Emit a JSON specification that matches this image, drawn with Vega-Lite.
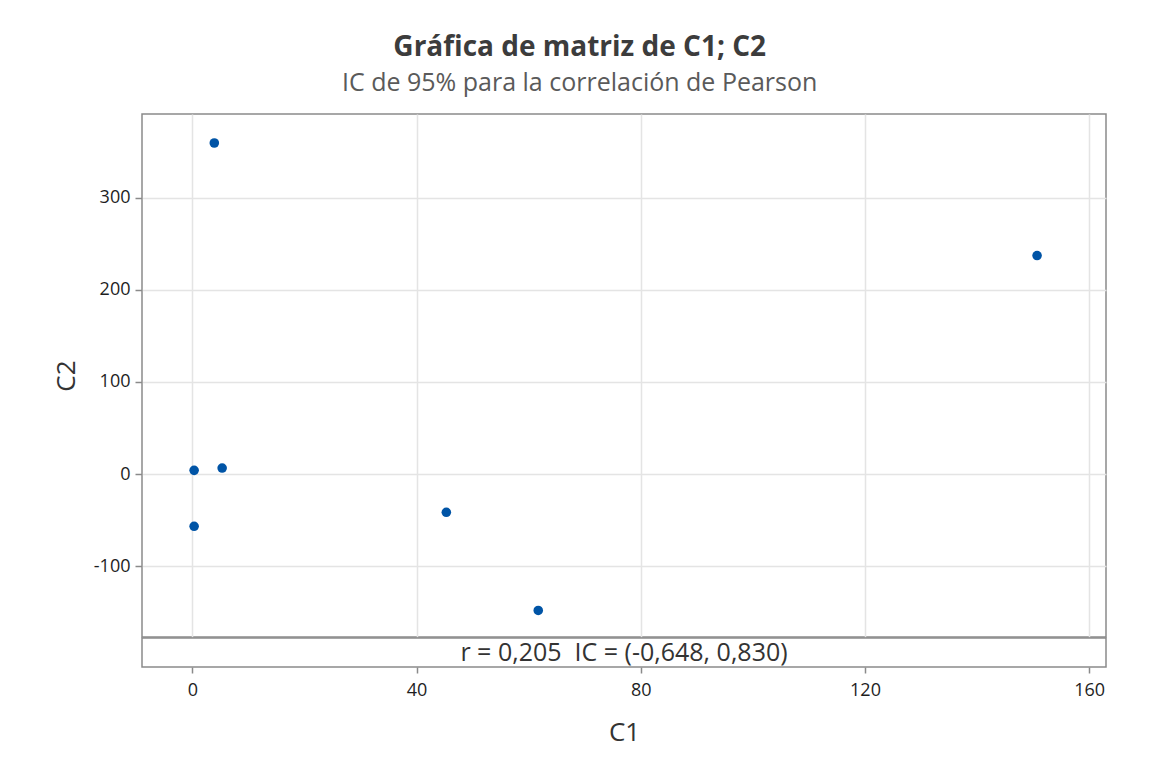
{
  "$schema": "https://vega.github.io/schema/vega-lite/v6.json",
  "background": "white",
  "padding": {"left": 52, "top": 34, "right": 30, "bottom": 20},
  "title": {
    "text": "Gráfica de matriz de C1; C2",
    "subtitle": "IC de 95% para la correlación de Pearson",
    "anchor": "middle",
    "frame": "bounds",
    "font": "Open Sans",
    "fontSize": 28,
    "fontWeight": "bold",
    "color": "#3c3c3c",
    "subtitleFont": "Open Sans",
    "subtitleFontSize": 25,
    "subtitleColor": "#5a5a5a",
    "subtitlePadding": 9,
    "offset": 17
  },
  "config": {
    "view": {"stroke": "#8a8a8a", "strokeWidth": 1.5},
    "axis": {
      "labelFont": "Open Sans",
      "titleFont": "Open Sans",
      "labelFontSize": 18,
      "titleFontSize": 26,
      "labelColor": "#1e1e1e",
      "titleColor": "#333333",
      "titleFontWeight": "normal",
      "gridColor": "#e4e4e4",
      "gridWidth": 1.5,
      "tickColor": "#8a8a8a",
      "tickWidth": 1.5,
      "tickSize": 7,
      "domain": false,
      "labelExpr": "replace(datum.label, '−', '-')"
    }
  },
  "spacing": -2,
  "datasets": {
    "pts": [
      {"C1": 0.3, "C2": 4.0},
      {"C1": 0.3, "C2": -56.8},
      {"C1": 3.9, "C2": 359.5},
      {"C1": 5.3, "C2": 6.5},
      {"C1": 45.3, "C2": -41.6},
      {"C1": 61.7, "C2": -148.2},
      {"C1": 150.7, "C2": 237.3}
    ]
  },
  "vconcat": [
    {
      "width": 964,
      "height": 523,
      "data": {"name": "pts"},
      "mark": {"type": "circle", "size": 92, "color": "#0054a6", "opacity": 1},
      "encoding": {
        "x": {
          "field": "C1", "type": "quantitative",
          "scale": {"domain": [-9, 163], "nice": false, "zero": false},
          "axis": {"values": [0, 40, 80, 120, 160], "labels": false, "ticks": false, "title": null, "grid": true}
        },
        "y": {
          "field": "C2", "type": "quantitative",
          "scale": {"domain": [-177, 391], "nice": false, "zero": false},
          "axis": {"values": [-100, 0, 100, 200, 300], "title": "C2", "labelPadding": 5, "titlePadding": 14, "grid": true}
        }
      }
    },
    {
      "width": 964,
      "height": 29,
      "layer": [
        {
          "data": {"name": "pts"},
          "mark": {"type": "point", "opacity": 0},
          "encoding": {
            "x": {
              "field": "C1", "type": "quantitative",
              "scale": {"domain": [-9, 163], "nice": false, "zero": false},
              "axis": {"values": [0, 40, 80, 120, 160], "title": "C1", "grid": false, "tickSize": 6, "labelPadding": 8, "titlePadding": 20}
            }
          }
        },
        {
          "data": {"values": [{"t": "r = 0,205\u00a0 IC = (-0,648, 0,830)"}]},
          "mark": {"type": "text", "fontSize": 25, "font": "Open Sans", "color": "#333333"},
          "encoding": {"text": {"field": "t"}}
        }
      ]
    }
  ]
}
